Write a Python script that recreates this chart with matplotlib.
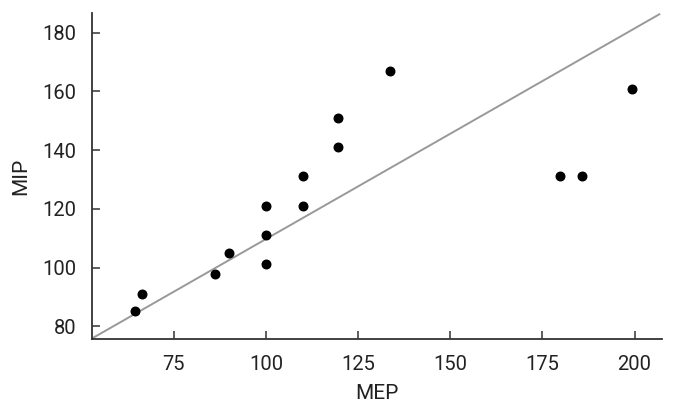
import matplotlib.pyplot as plt
import matplotlib.font_manager as fm

names = {f.name for f in fm.fontManager.ttflist}
family = 'Liberation Sans Narrow' if 'Liberation Sans Narrow' in names else 'Roboto'
plt.rcParams['font.family'] = [family, 'DejaVu Sans']

mep = [64.5, 66.4, 86.2, 90.0, 100, 100, 100, 110, 110, 119.6, 119.6, 133.7, 179.7, 185.7, 199.2]
mip = [85.3, 91.2, 97.9, 105.1, 101.2, 111.1, 121.1, 121.1, 131.2, 141.1, 151.0, 167.0, 131.1, 131.1, 160.9]

# reference line
line_x = [52.7, 206.7]
line_y = [75.9, 186.2]

fig = plt.figure(figsize=(6.75, 4.19), dpi=100)
ax = fig.add_axes([0.136, 0.192, 0.844, 0.776])

ax.plot(line_x, line_y, color='#999999', lw=1.4, zorder=1)
ax.scatter(mep, mip, s=38, color='black', zorder=2)

ax.set_xlim(52.7, 207.3)
ax.set_ylim(75.9, 186.5)
ax.set_xticks([75, 100, 125, 150, 175, 200])
ax.set_yticks([80, 100, 120, 140, 160, 180])

for s in ['top', 'right']:
    ax.spines[s].set_visible(False)
for s in ['left', 'bottom']:
    ax.spines[s].set_linewidth(1.3)
    ax.spines[s].set_color('#333333')

ax.tick_params(axis='both', direction='in', length=6, width=1.1, color='#333333',
               labelsize=14.5, labelcolor='#222222')
ax.tick_params(axis='y', pad=11)
ax.tick_params(axis='x', pad=12)

ax.set_xlabel('MEP', fontsize=15, color='#222222', labelpad=7)
ax.set_ylabel('MIP', fontsize=15, color='#222222', labelpad=9)

fig.savefig('out.png', dpi=100)
